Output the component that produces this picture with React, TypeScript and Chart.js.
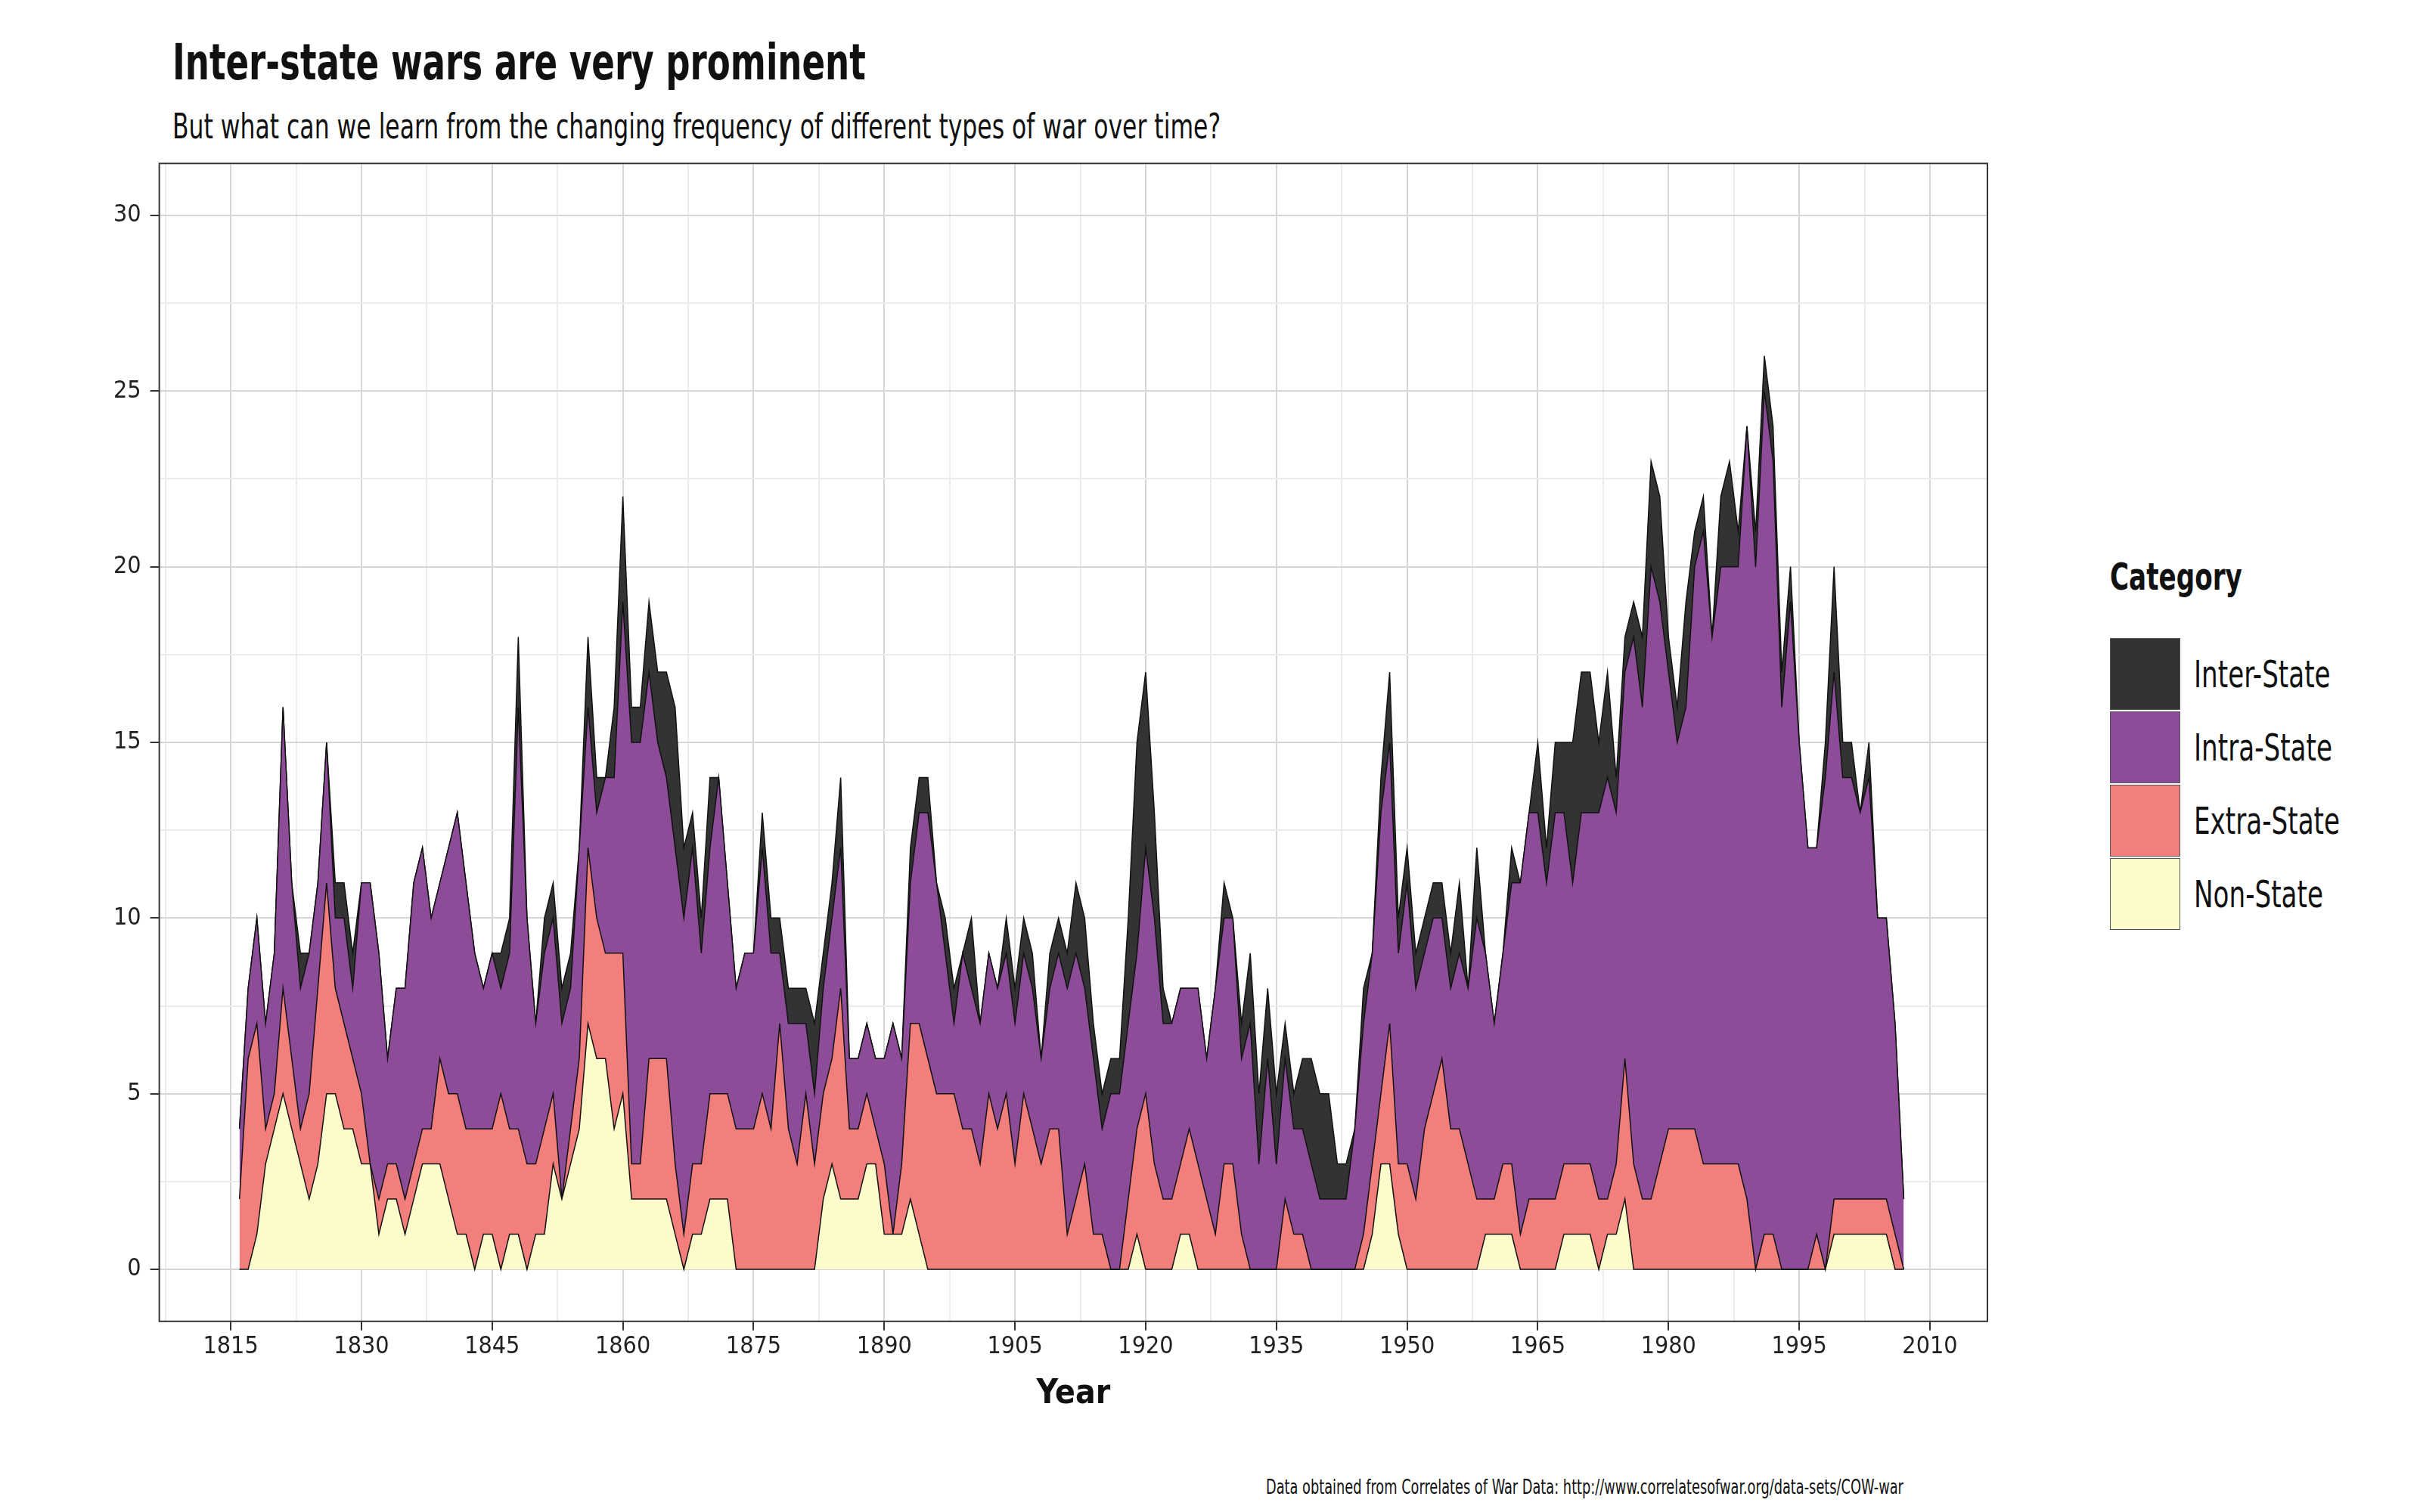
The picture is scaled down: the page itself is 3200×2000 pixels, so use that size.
import React, { useEffect, useRef } from "react"
import { Chart, registerables } from "chart.js"

Chart.register(...registerables)

const startYear = 1816

const nonState = [
  0, 0, 1, 3, 4, 5, 4, 3, 2, 3,
  5, 5, 4, 4, 3, 3, 1, 2, 2, 1,
  2, 3, 3, 3, 2, 1, 1, 0, 1, 1,
  0, 1, 1, 0, 1, 1, 3, 2, 3, 4,
  7, 6, 6, 4, 5, 2, 2, 2, 2, 2,
  1, 0, 1, 1, 2, 2, 2, 0, 0, 0,
  0, 0, 0, 0, 0, 0, 0, 2, 3, 2,
  2, 2, 3, 3, 1, 1, 1, 2, 1, 0,
  0, 0, 0, 0, 0, 0, 0, 0, 0, 0,
  0, 0, 0, 0, 0, 0, 0, 0, 0, 0,
  0, 0, 0, 1, 0, 0, 0, 0, 1, 1,
  0, 0, 0, 0, 0, 0, 0, 0, 0, 0,
  0, 0, 0, 0, 0, 0, 0, 0, 0, 0,
  1, 3, 3, 1, 0, 0, 0, 0, 0, 0,
  0, 0, 0, 1, 1, 1, 1, 0, 0, 0,
  0, 0, 1, 1, 1, 1, 0, 1, 1, 2,
  0, 0, 0, 0, 0, 0, 0, 0, 0, 0,
  0, 0, 0, 0, 0, 0, 0, 0, 0, 0,
  0, 0, 0, 1, 1, 1, 1, 1, 1, 1,
  0, 0,
]

const extraState = [
  2, 6, 6, 1, 1, 3, 2, 1, 3, 5,
  6, 3, 3, 2, 2, 0, 1, 1, 1, 1,
  1, 1, 1, 3, 3, 4, 3, 4, 3, 3,
  5, 3, 3, 3, 2, 3, 2, 0, 1, 2,
  5, 4, 3, 5, 4, 1, 1, 4, 4, 4,
  2, 1, 2, 2, 3, 3, 3, 4, 4, 4,
  5, 4, 7, 4, 3, 5, 3, 3, 3, 6,
  2, 2, 2, 1, 2, 0, 2, 5, 6, 6,
  5, 5, 5, 4, 4, 3, 5, 4, 5, 3,
  5, 4, 3, 4, 4, 1, 2, 3, 1, 1,
  0, 0, 2, 3, 5, 3, 2, 2, 2, 3,
  3, 2, 1, 3, 3, 1, 0, 0, 0, 0,
  2, 1, 1, 0, 0, 0, 0, 0, 0, 1,
  2, 2, 4, 2, 3, 2, 4, 5, 6, 4,
  4, 3, 2, 1, 1, 2, 2, 1, 2, 2,
  2, 2, 2, 2, 2, 2, 2, 1, 2, 4,
  3, 2, 2, 3, 4, 4, 4, 4, 3, 3,
  3, 3, 3, 2, 0, 1, 1, 0, 0, 0,
  0, 1, 0, 1, 1, 1, 1, 1, 1, 1,
  1, 0,
]

const intraState = [
  2, 2, 3, 3, 4, 8, 5, 4, 4, 3,
  4, 2, 3, 2, 6, 8, 7, 3, 5, 6,
  8, 8, 6, 5, 7, 8, 7, 5, 4, 5,
  3, 5, 12, 7, 4, 5, 5, 5, 4, 6,
  4, 3, 5, 5, 10, 12, 12, 11, 9, 8,
  9, 9, 9, 6, 7, 9, 6, 4, 5, 5,
  7, 5, 2, 3, 4, 2, 2, 3, 4, 4,
  2, 2, 2, 2, 3, 6, 3, 4, 6, 7,
  6, 4, 2, 5, 4, 4, 4, 4, 4, 4,
  4, 4, 3, 4, 5, 7, 7, 5, 5, 3,
  5, 5, 5, 5, 7, 7, 5, 5, 5, 4,
  5, 4, 7, 7, 7, 5, 7, 3, 6, 3,
  4, 3, 3, 3, 2, 2, 2, 2, 4, 6,
  6, 8, 8, 6, 8, 6, 5, 5, 4, 4,
  5, 5, 8, 7, 5, 6, 8, 10, 11, 11,
  9, 11, 10, 8, 10, 10, 11, 12, 10, 11,
  15, 14, 18, 16, 13, 11, 12, 16, 18, 15,
  17, 17, 17, 22, 20, 24, 22, 16, 19, 15,
  12, 11, 14, 15, 12, 12, 11, 12, 8, 8,
  6, 2,
]

const interState = [
  0, 0, 0, 0, 0, 0, 0, 1, 0, 0,
  0, 1, 1, 1, 0, 0, 0, 0, 0, 0,
  0, 0, 0, 0, 0, 0, 0, 0, 0, 0,
  1, 1, 2, 0, 0, 1, 1, 1, 1, 0,
  2, 1, 0, 2, 3, 1, 1, 2, 2, 3,
  4, 2, 1, 1, 2, 0, 0, 0, 0, 0,
  1, 1, 1, 1, 1, 1, 2, 1, 1, 2,
  0, 0, 0, 0, 0, 0, 0, 1, 1, 1,
  0, 1, 1, 0, 2, 0, 0, 0, 1, 1,
  1, 1, 0, 1, 1, 1, 2, 2, 1, 1,
  1, 1, 3, 6, 5, 3, 1, 0, 0, 0,
  0, 0, 0, 1, 0, 1, 2, 2, 2, 2,
  1, 1, 2, 3, 3, 3, 1, 1, 0, 1,
  0, 1, 2, 1, 1, 1, 1, 1, 1, 1,
  2, 0, 2, 0, 0, 0, 1, 0, 0, 2,
  1, 2, 2, 4, 4, 4, 2, 3, 1, 1,
  1, 2, 3, 3, 1, 1, 3, 1, 1, 0,
  2, 3, 1, 0, 1, 1, 1, 1, 1, 0,
  0, 0, 1, 3, 1, 1, 0, 1, 0, 0,
  0, 0,
]

const categories = ["Inter-State", "Intra-State", "Extra-State", "Non-State"]
const colors = ["#333335", "#8d4c98", "#f27f7b", "#fcfccb"]

const font = "'Liberation Sans Narrow', 'DejaVu Sans Condensed', 'DejaVu Sans', sans-serif"

const toPoints = (arr: number[]) => arr.map((v, i) => ({ x: startYear + i, y: v }))

// squeeze html text so it looks like the condensed font of the original
const narrow = { transform: "scaleX(0.76)", transformOrigin: "left center", whiteSpace: "nowrap" as const }

const panelBorder = {
  id: "panelBorder",
  afterDraw(chart: any) {
    const { ctx, chartArea } = chart
    ctx.save()
    ctx.strokeStyle = "#333333"
    ctx.lineWidth = 2
    ctx.strokeRect(chartArea.left, chartArea.top, chartArea.right - chartArea.left, chartArea.bottom - chartArea.top)
    ctx.restore()
  },
}

function WarChart() {
  const canvasRef = useRef<HTMLCanvasElement>(null)

  useEffect(() => {
    if (!canvasRef.current) return
    const series = [nonState, extraState, intraState, interState]
    const names = ["Non-State", "Extra-State", "Intra-State", "Inter-State"]
    const fills = ["#fcfccb", "#f27f7b", "#8d4c98", "#333335"]
    const chart = new Chart(canvasRef.current, {
      type: "line",
      data: {
        datasets: series.map((s, i) => ({
          label: names[i],
          data: toPoints(s),
          backgroundColor: fills[i],
          borderColor: "#111111",
          borderWidth: 1.5,
          pointRadius: 0,
          fill: i === 0 ? "origin" : "-1",
          tension: 0,
        })),
      },
      options: {
        animation: false,
        responsive: false,
        maintainAspectRatio: false,
        layout: { padding: { right: 10, top: 10 } },
        plugins: { legend: { display: false }, tooltip: { enabled: false } },
        scales: {
          x: {
            type: "linear",
            min: 1806.8,
            max: 2016.6,
            ticks: {
              stepSize: 7.5,
              includeBounds: false,
              autoSkip: false,
              maxRotation: 0,
              color: "#222",
              font: { family: font, size: 32 },
              callback: (v: any) => (Number(v) % 15 === 0 ? String(v) : ""),
            },
            grid: {
              color: (c: any) => (c.tick && c.tick.value % 15 === 0 ? "#d6d6d6" : "#ececec"),
              lineWidth: 2,
              tickLength: 12,
              tickColor: (c: any) => (c.tick && c.tick.value % 15 === 0 ? "#333" : "rgba(0,0,0,0)"),
            },
            border: { display: false },
            title: { display: true, text: "Year", color: "#111", font: { family: font, size: 44, weight: "bold" }, padding: { top: 14 } },
          },
          y: {
            stacked: true,
            min: -1.48,
            max: 31.48,
            ticks: {
              stepSize: 2.5,
              includeBounds: false,
              autoSkip: false,
              color: "#222",
              font: { family: font, size: 32 },
              padding: 12,
              callback: (v: any) => (Number(v) % 5 === 0 ? String(v) : ""),
            },
            grid: {
              color: (c: any) => (c.tick && c.tick.value % 5 === 0 ? "#d6d6d6" : "#ececec"),
              lineWidth: 2,
              tickLength: 12,
              tickColor: (c: any) => (c.tick && c.tick.value % 5 === 0 ? "#333" : "rgba(0,0,0,0)"),
            },
            border: { display: false },
          },
        },
      },
      plugins: [panelBorder],
    } as any)
    return () => chart.destroy()
  }, [])

  return <canvas ref={canvasRef} width={2500} height={1690} style={{ position: "absolute", left: 130, top: 177 }} />
}

export default function App() {
  return (
    <div style={{ position: "relative", width: 3200, height: 2000, background: "#fff", fontFamily: font, color: "#111" }}>
      <div style={{ position: "absolute", left: 220, top: 36, fontSize: 66, fontWeight: "bold", ...narrow }}>Inter-state wars are very prominent</div>
      <div style={{ position: "absolute", left: 220, top: 132, fontSize: 46, ...narrow }}>
        But what can we learn from the changing frequency of different types of war over time?
      </div>
      <WarChart />
      <div style={{ position: "absolute", left: 2782, top: 726, fontSize: 50, fontWeight: "bold", ...narrow }}>Category</div>
      {categories.map((c, i) => (
        <div key={c} style={{ position: "absolute", left: 2782, top: 836 + i * 97, display: "flex", alignItems: "center" }}>
          <div style={{ width: 93, height: 95, background: colors[i], border: "1px solid #555", boxSizing: "border-box" }} />
          <div style={{ marginLeft: 18, fontSize: 50, ...narrow }}>{c}</div>
        </div>
      ))}
      <div style={{ position: "absolute", left: 1666, top: 1944, fontSize: 26, ...narrow }}>
        Data obtained from Correlates of War Data: http://www.correlatesofwar.org/data-sets/COW-war
      </div>
    </div>
  )
}
